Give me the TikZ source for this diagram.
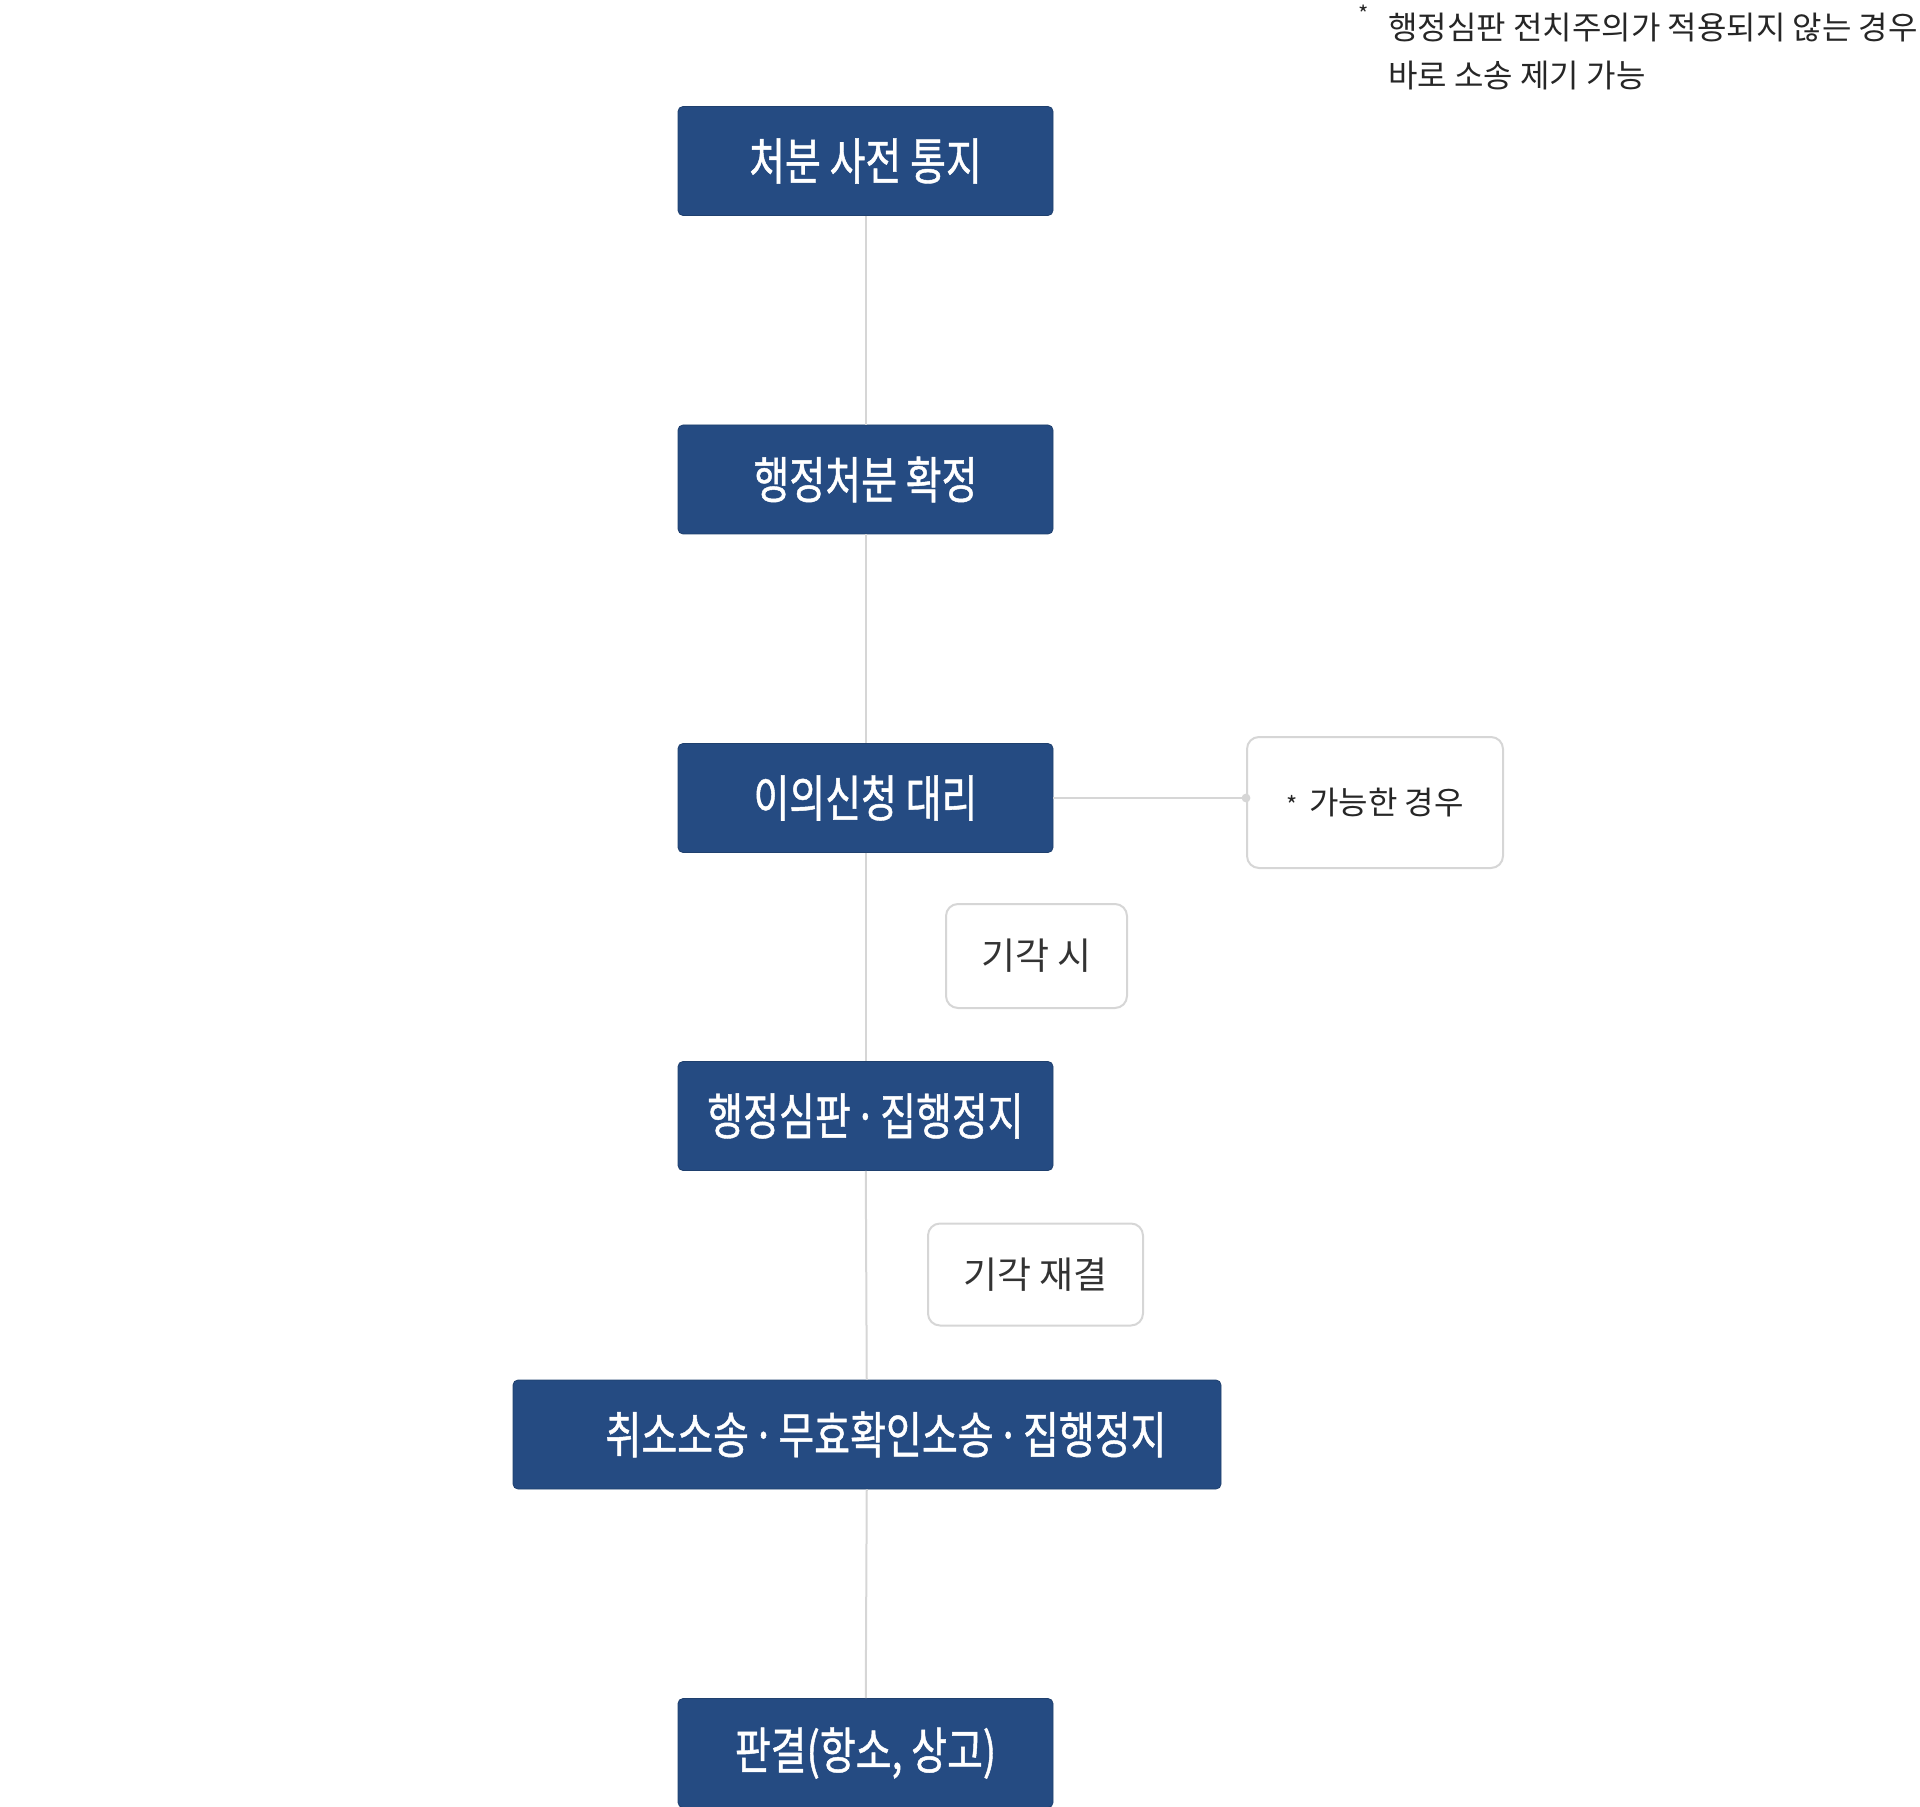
\documentclass[tikz,border=0pt]{standalone}
\usepackage{fontspec}
\setmainfont{Noto Sans CJK KR}
\newfontfamily\boxfont[FakeStretch=0.78,FakeBold=0.9]{Noto Sans CJK KR}
\definecolor{navy}{RGB}{37,75,130}
\definecolor{rule}{RGB}{214,214,214}
\definecolor{ink}{RGB}{51,51,51}
\newcommand{\midsep}{\hspace{-2.5pt}~·~\hspace{-2.5pt}}

\begin{document}
\begin{tikzpicture}[x=0.5pt,y=-0.5pt,
	procbox/.style={draw=navy!85!black,fill=navy,rounded corners=2.5pt,
		minimum width=187.5pt,minimum height=54.5pt,inner sep=0pt,
		text=white,font=\boxfont\fontsize{25pt}{29pt}\selectfont},
	sidebox/.style={draw=rule,line width=1pt,fill=white,rounded corners=6pt,
		inner sep=0pt,text=ink,font=\fontsize{18.5pt}{22pt}\selectfont},
	link/.style={draw=rule,line width=1pt}]
	\useasboundingbox (0,0) rectangle (1920,1807);

	% note at the top right
	\node[font=\fontsize{11pt}{11pt}\selectfont,text=black!85] (star) at (1364,14) {*};
	\node[anchor=west,align=left,inner sep=0pt,text=black!85,
		font=\fontsize{16pt}{24pt}\selectfont] (note) at (1388,52)
		{행정심판 전치주의가 적용되지 않는 경우\\바로 소송 제기 가능};

	% main steps
	\node[procbox] (notice) at (865.5,161) {처분 사전 통지};
	\node[procbox] (confirm) at (865.5,479.5) {행정처분 확정};
	\node[procbox] (objection) at (865.5,798) {이의신청 대리};
	\node[procbox] (trial) at (865.5,1116) {행정심판\midsep 집행정지};
	\node[procbox,minimum width=354pt] (suit) at (867,1434.5)
		{\hspace*{19pt}취소소송\midsep 무효확인소송\midsep 집행정지};
	\node[procbox] (ruling) at (865.5,1753) {판결(항소, 상고)};

	\draw[link] (notice) -- (confirm);
	\draw[link] (confirm) -- (objection);
	\draw[link] (objection) -- (trial);
	\draw[link] (trial) -- (suit);
	\draw[link] (suit) -- (ruling);

	% side remarks
	\node[sidebox,minimum width=128pt,minimum height=65.5pt,
		font=\fontsize{16pt}{19pt}\selectfont,text=black!85] (possible) at (1375,802.5)
		{{\fontsize{12pt}{12pt}\selectfont *}\hspace{6pt}가능한 경우};
	\coordinate (tap) at (objection.east -| possible.west);
	\draw[link] (objection.east) -- (tap);
	\fill[rule] (tap) circle (2.2pt);

	\node[sidebox,minimum width=90.5pt,minimum height=52pt] (reject) at (1036.5,956) {기각 시};
	\node[sidebox,minimum width=107.5pt,minimum height=51pt] (dismiss) at (1035.5,1274.5) {기각 재결};
\end{tikzpicture}
\end{document}
